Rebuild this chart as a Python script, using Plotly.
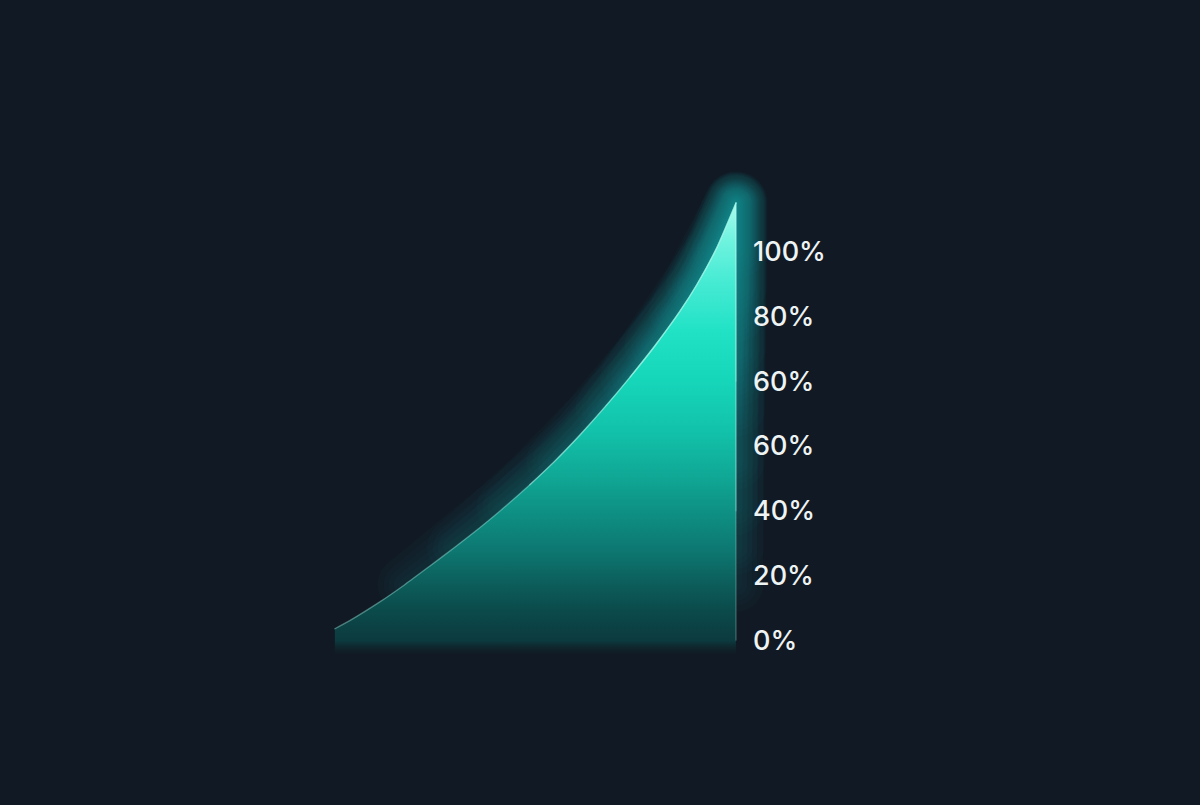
import plotly.graph_objects as go

# curve (x: 0..100 along the base, y: label units, 20 per step)
x_vals = [0, 3.7, 11.2, 17.5, 23.7, 29.9, 36.2, 42.4, 48.6, 54.9, 61.1, 67.3, 73.6, 79.8, 86.0, 90.3, 95.3, 100]
y_vals = [3.5, 6.0, 11.8, 17.2, 22.9, 28.7, 34.8, 41.2, 48.0, 55.4, 63.4, 72.0, 81.3, 91.0, 101.6, 110.0, 121.5, 135.1]
base_y = -4.5

tick_vals = [0, 20, 40, 60, 80, 100, 120]
tick_text = ['0%', '20%', '40%', '60%', '60%', '80%', '100%']

bg = '#111a24'
glow = 'rgba(30,225,195,0.02)'

fig = go.Figure()

# glow: faint overlapping passes, more of them near the tip;
# each pass runs up the curve and back down the right edge,
# widths are staggered per pass so the rings do not stack up
for i, k in enumerate([3, 5, 7, 9, 11, 12, 13, 14, 15, 16]):
    gx = x_vals[k:] + [x_vals[-1]]
    gy = y_vals[k:] + [y_vals[k]]
    for w in [3, 13, 23, 33, 43, 55]:
        fig.add_trace(go.Scatter(
            x=gx, y=gy, mode='lines',
            line=dict(color=glow, width=w + i),
            hoverinfo='skip', showlegend=False
        ))

# baseline for the fill
fig.add_trace(go.Scatter(
    x=x_vals, y=[base_y] * len(x_vals), mode='lines',
    line=dict(width=0), hoverinfo='skip', showlegend=False
))

# gradient fill
fig.add_trace(go.Scatter(
    x=x_vals, y=y_vals, mode='lines',
    line=dict(width=0, shape='spline', smoothing=0.6),
    fill='tonexty',
    fillgradient=dict(
        type='vertical', start=base_y, stop=y_vals[-1],
        colorscale=[
            [0.0, 'rgba(14,38,44,0)'],
            [0.03, '#0c3a3e'],
            [0.096, '#0b4a4b'],
            [0.162, '#0c5f5c'],
            [0.229, '#0d7770'],
            [0.318, '#0e9184'],
            [0.407, '#10ab98'],
            [0.496, '#12c2aa'],
            [0.607, '#16d6ba'],
            [0.719, '#22e2c6'],
            [0.83, '#48ebd4'],
            [0.919, '#70f3df'],
            [1.0, '#a8fbef'],
        ],
    ),
    hoverinfo='skip', showlegend=False
))

# right edge, brighter towards the top
for b in [0, 40, 80]:
    fig.add_trace(go.Scatter(
        x=[x_vals[-1], x_vals[-1]], y=[y_vals[-1], b], mode='lines',
        line=dict(color='rgba(190,255,240,0.22)', width=1.6),
        hoverinfo='skip', showlegend=False
    ))

# bright rim along the curve, stronger near the top
for k in [0, 8, 12]:
    fig.add_trace(go.Scatter(
        x=x_vals[k:], y=y_vals[k:], mode='lines',
        line=dict(color='rgba(170,252,238,0.4)', width=1.3, shape='spline', smoothing=0.6),
        hoverinfo='skip', showlegend=False
    ))

fig.update_layout(
    width=1200, height=805,
    margin=dict(l=0, r=0, t=0, b=0),
    paper_bgcolor=bg, plot_bgcolor=bg,
    xaxis=dict(range=[-83.5, 215.7], visible=False, fixedrange=True),
    yaxis=dict(
        range=[-51.0, 197.9],
        side='right', anchor='free', position=736 / 1200,
        tickvals=tick_vals, ticktext=tick_text,
        showgrid=False, zeroline=False, showline=False, ticks='',
        ticklabelstandoff=16,
        tickfont=dict(family='Inter, Noto Sans, sans-serif', size=27, color='#eef3f4', weight=500),
        fixedrange=True
    ),
    showlegend=False
)

# page without the default body margin; round joins/caps soften the glow
post = (
    "document.body.style.margin='0';"
    "document.body.style.background='#111a24';"
    "document.querySelectorAll('.js-line').forEach(function(p){"
    "p.style.strokeLinejoin='round';p.style.strokeLinecap='round';});"
)
fig.write_html("out.html", config={'displayModeBar': False}, post_script=post)
